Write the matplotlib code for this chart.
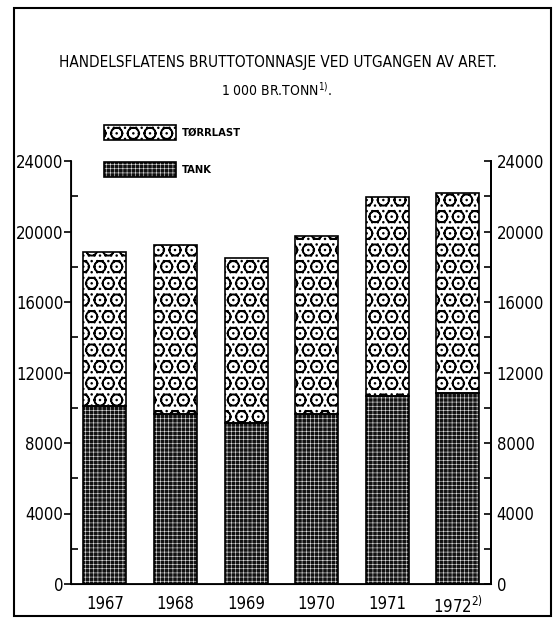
import numpy as np
import matplotlib.pyplot as plt
from matplotlib.patches import Rectangle

plt.rcParams['font.family'] = ['DejaVu Sans']
plt.rcParams['font.stretch'] = 'condensed'
plt.rcParams['mathtext.fontset'] = 'dejavusans'

# data (1 000 br.tonn)
years = ['1967', '1968', '1969', '1970', '1971', '1972$^{2)}$']
tank = [10100, 9630, 9160, 9630, 10680, 10830]
total = [18850, 19230, 18510, 19760, 21960, 22190]
torrlast = [t - k for t, k in zip(total, tank)]

DARK = '#111111'
DOTS = 'O...'
GRID = '++++'

fig = plt.figure(figsize=(5.54, 6.2), dpi=100)
ax = fig.add_axes([71/554, 1 - 584/620, 420/554, 423/620])

x = np.arange(len(years))
w = 0.61

# tank: dark with fine white grid
plt.rcParams['hatch.linewidth'] = 0.4
ax.bar(x, tank, w, color=DARK, edgecolor='#e8e8e8', hatch=GRID, linewidth=0)
# tørrlast: stippled
plt.rcParams['hatch.linewidth'] = 1.0
ax.bar(x, torrlast, w, bottom=tank, color='white', edgecolor='black', hatch=DOTS, linewidth=0)
ax.bar(x, tank, w, fill=False, edgecolor='black', linewidth=1.2)
ax.bar(x, torrlast, w, bottom=tank, fill=False, edgecolor='black', linewidth=1.2)

ax.set_xlim(-0.48, 5.47)
ax.set_ylim(0, 24000)
ax.set_xticks(x)
ax.set_xticklabels(years, fontsize=12)
ax.tick_params(axis='x', length=0, pad=8)
ax.set_yticks(np.arange(0, 24001, 4000))
ax.set_yticks(np.arange(2000, 24000, 4000), minor=True)
ax.tick_params(axis='y', which='major', direction='out', length=5, labelsize=12, width=1.2, pad=0.5)
ax.tick_params(axis='y', which='minor', direction='in', length=5, width=1.2)
ax.spines['top'].set_visible(False)
for s in ['left', 'right', 'bottom']:
    ax.spines[s].set_linewidth(1.3)

ax2 = ax.twinx()
ax2.set_ylim(0, 24000)
ax2.set_yticks(np.arange(0, 24001, 4000))
ax2.set_yticks(np.arange(2000, 24000, 4000), minor=True)
ax2.tick_params(axis='y', which='both', direction='in', length=5, labelsize=12, width=1.2, pad=4)
ax2.spines['top'].set_visible(False)
ax2.spines['right'].set_linewidth(1.3)

# legend and titles on an overlay in pixel coords
ov = fig.add_axes([0, 0, 1, 1], facecolor='none')
ov.set_xlim(0, 554)
ov.set_ylim(620, 0)
ov.axis('off')
plt.rcParams['hatch.linewidth'] = 1.0
ov.add_patch(Rectangle((104, 125), 72, 15, facecolor='white', edgecolor='black', hatch=DOTS, linewidth=1.2))
plt.rcParams['hatch.linewidth'] = 0.4
ov.add_patch(Rectangle((104, 162), 72, 15, facecolor=DARK, edgecolor='#e8e8e8', hatch=GRID, linewidth=0))
ov.add_patch(Rectangle((104, 162), 72, 15, fill=False, edgecolor='black', linewidth=1.2))
ov.text(182, 133, 'TØRRLAST', fontsize=8, va='center', fontweight='bold')
ov.text(182, 170, 'TANK', fontsize=8, va='center', fontweight='bold')

ov.text(278, 62, 'HANDELSFLATENS BRUTTOTONNASJE VED UTGANGEN AV ARET.', fontsize=11,
        ha='center', va='center')
ov.text(277, 90, '1 000 BR.TONN$^{1)}$.', fontsize=10, ha='center', va='center')

# outer frame
ov.add_patch(Rectangle((14, 8), 537, 608, fill=False, edgecolor='black', linewidth=1.5))

fig.savefig('out.png', dpi=100)
